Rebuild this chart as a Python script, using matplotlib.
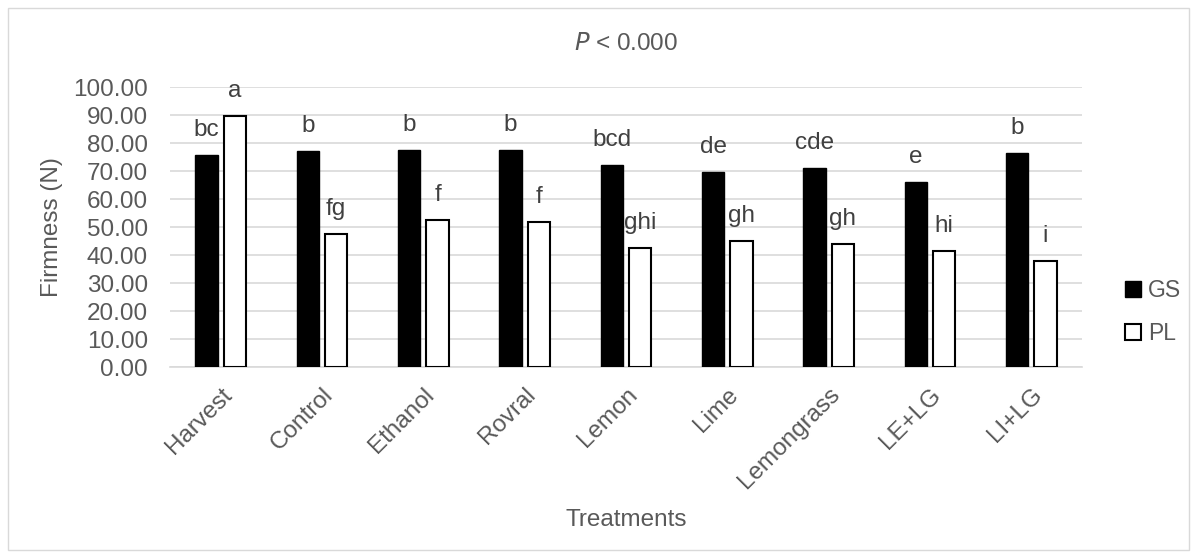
import numpy as np
import matplotlib.pyplot as plt
from matplotlib.patches import Rectangle

plt.rcParams['font.family'] = ['Liberation Sans', 'DejaVu Sans']

treatments = ['Harvest', 'Control', 'Ethanol', 'Rovral', 'Lemon', 'Lime',
              'Lemongrass', 'LE+LG', 'LI+LG']
gs_values = [75.7, 77.2, 77.6, 77.4, 72.3, 69.8, 70.9, 66.1, 76.5]
pl_values = [89.5, 47.6, 52.5, 51.8, 42.5, 45.0, 43.9, 41.5, 37.9]
gs_letters = ['bc', 'b', 'b', 'b', 'bcd', 'de', 'cde', 'e', 'b']
pl_letters = ['a', 'fg', 'f', 'f', 'ghi', 'gh', 'gh', 'hi', 'i']

text_col = '#595959'
fs = 17.5
fig = plt.figure(figsize=(11.97, 5.58), dpi=100)
ax = fig.add_axes([170 / 1197, 1 - 367 / 558, 912 / 1197, 280 / 558])

x = np.arange(len(treatments))
w = 0.22
off = 0.14
ax.bar(x - off, gs_values, w, color='black', edgecolor='black', linewidth=1, label='GS', zorder=3)
ax.bar(x + off, pl_values, w, color='white', edgecolor='black', linewidth=1.5, label='PL', zorder=3)

for xi, v, s in zip(x - off, gs_values, gs_letters):
    ax.annotate(s, (xi, v), xytext=(0, 18), textcoords='offset points',
                ha='center', va='center', fontsize=fs, color='#404040')
for xi, v, s in zip(x + off, pl_values, pl_letters):
    ax.annotate(s, (xi, v), xytext=(0, 18), textcoords='offset points',
                ha='center', va='center', fontsize=fs, color='#404040')

ax.set_xlim(-0.5, len(treatments) - 0.5)
ax.set_ylim(0, 100)
ax.set_yticks(np.arange(0, 101, 10))
ax.set_yticklabels(['%.2f' % t for t in np.arange(0, 101, 10)])
ax.yaxis.grid(True, color='#D9D9D9', linewidth=1.2, zorder=0)
ax.set_axisbelow(True)
for sp in ['top', 'right', 'left']:
    ax.spines[sp].set_visible(False)
ax.spines['bottom'].set_color('#D9D9D9')
ax.spines['bottom'].set_linewidth(1.2)
ax.tick_params(axis='both', length=0, labelsize=fs, labelcolor=text_col)
ax.tick_params(axis='y', pad=16)
ax.set_xticks(x)
ax.set_xticklabels(treatments, rotation=45, ha='right', rotation_mode='anchor')
ax.tick_params(axis='x', pad=12)

ax.set_ylabel('Firmness (N)', fontsize=fs, color=text_col, labelpad=7)
ax.set_xlabel('Treatments', fontsize=fs, color=text_col, labelpad=11)
ax.set_title('$\\it{P}$ < 0.000', fontsize=fs, color=text_col, pad=27)

ax.legend(loc='center left', bbox_to_anchor=(1.025, 0.196), frameon=False,
          fontsize=16.5, handlelength=0.7, handleheight=0.7, handletextpad=0.3,
          labelspacing=0.85, labelcolor=text_col)

fig.patches.append(Rectangle((8 / 1197, 8 / 558), 1 - 16 / 1197, 1 - 16 / 558,
                             transform=fig.transFigure, fill=False,
                             edgecolor='#D9D9D9', linewidth=1))

fig.savefig('out.png', dpi=100)
